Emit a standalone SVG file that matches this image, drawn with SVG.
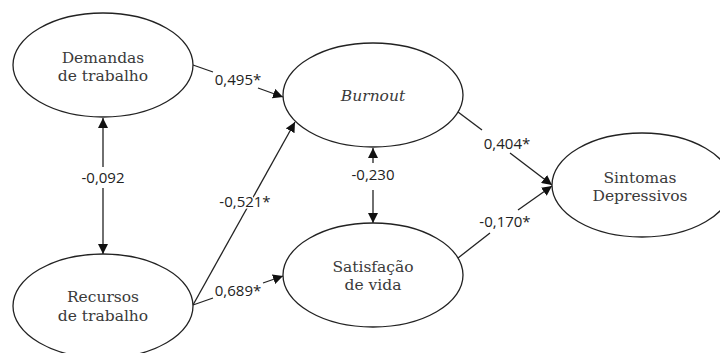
<svg xmlns="http://www.w3.org/2000/svg" width="720" height="353" viewBox="0 0 720 353">
<style>
.node ellipse{fill:#fff;stroke:#222;stroke-width:1.3}
.node text{font-family:"DejaVu Serif","Liberation Serif",serif;font-size:15.5px;fill:#3a3a3a;text-anchor:middle}
.edges line{stroke:#222;stroke-width:1.3;fill:none}
.lbl{font-family:"Open Sans","Noto Sans",sans-serif;font-size:15px;fill:#222;text-anchor:middle;stroke:#fff;stroke-width:3px;paint-order:stroke}
</style>
<defs>
<marker id="ah" viewBox="0 0 10 10" refX="10" refY="5" markerWidth="10" markerHeight="10" markerUnits="userSpaceOnUse" orient="auto">
<path d="M0,0 L10,5 L0,10 z" fill="#111"/>
</marker>
</defs>
<g class="edges">
<line x1="193" y1="65" x2="213" y2="72"/>
<line x1="258" y1="88" x2="283" y2="97" marker-end="url(#ah)"/>
<line x1="103" y1="167" x2="103" y2="118" marker-end="url(#ah)"/>
<line x1="103" y1="188" x2="103" y2="254" marker-end="url(#ah)"/>
<line x1="193" y1="305" x2="295" y2="122" marker-end="url(#ah)"/>
<line x1="193" y1="305" x2="213" y2="298"/>
<line x1="263" y1="283" x2="283" y2="276" marker-end="url(#ah)"/>
<line x1="373" y1="163" x2="373" y2="148" marker-end="url(#ah)"/>
<line x1="373" y1="190" x2="373" y2="223" marker-end="url(#ah)"/>
<line x1="458" y1="112" x2="482" y2="130"/>
<line x1="510" y1="153" x2="552" y2="185" marker-end="url(#ah)"/>
<line x1="458" y1="258" x2="490" y2="233"/>
<line x1="518" y1="210" x2="552" y2="186" marker-end="url(#ah)"/>
</g>
<text class="lbl" x="238" y="85">0,495*</text>
<text class="lbl" x="103" y="183">-0,092</text>
<text class="lbl" x="245" y="207">-0,521*</text>
<text class="lbl" x="238" y="296">0,689*</text>
<text class="lbl" x="373" y="180">-0,230</text>
<text class="lbl" x="507" y="149">0,404*</text>
<text class="lbl" x="505" y="227">-0,170*</text>
<g id="demandas" class="node">
<ellipse cx="103" cy="65" rx="90" ry="52"/>
<text x="103" y="63">Demandas</text>
<text x="103" y="81">de trabalho</text>
</g>
<g id="recursos" class="node">
<ellipse cx="103" cy="306" rx="90" ry="52"/>
<text x="103" y="302">Recursos</text>
<text x="103" y="321">de trabalho</text>
</g>
<g id="burnout" class="node">
<ellipse cx="373" cy="95" rx="90" ry="52"/>
<text x="373" y="101" font-style="italic">Burnout</text>
</g>
<g id="satisfacao" class="node">
<ellipse cx="373" cy="275" rx="90" ry="52"/>
<text x="373" y="272">Satisfação</text>
<text x="373" y="290">de vida</text>
</g>
<g id="sintomas" class="node">
<ellipse cx="642" cy="185" rx="90" ry="52"/>
<text x="640" y="183">Sintomas</text>
<text x="640" y="201">Depressivos</text>
</g>
</svg>
